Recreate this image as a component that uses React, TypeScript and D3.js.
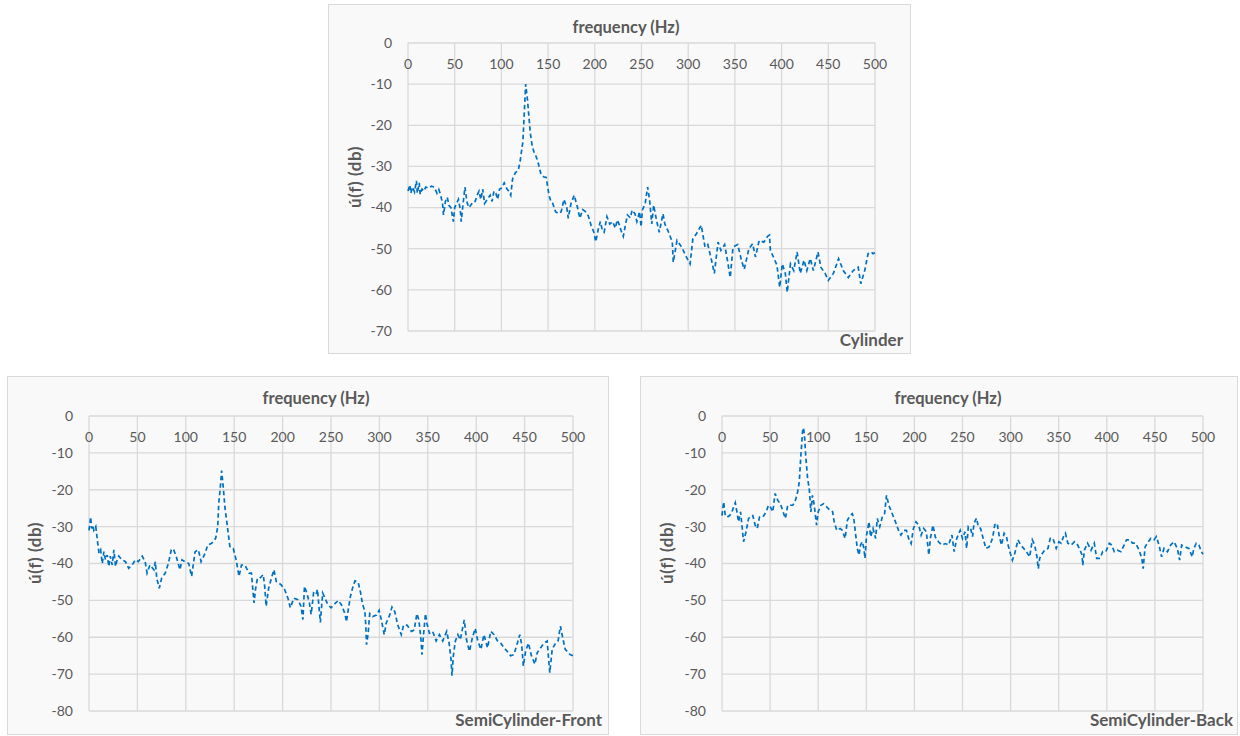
import React from "react";
import * as d3 from "d3";

// ---------- DATA ----------
const X_TICKS = [0, 50, 100, 150, 200, 250, 300, 350, 400, 450, 500];
const Y_TICKS_CYL = [0, -10, -20, -30, -40, -50, -60, -70];
const Y_TICKS_SEMI = [0, -10, -20, -30, -40, -50, -60, -70, -80];

const X_TITLE = "frequency (Hz)";
const Y_TITLE = "ú(f) (db)";

const CYL_FREQ = [0,2,3,5,7,9,10,12,13,15,17,19,22,25,28,31,33,35,37,38,40,42,44,46,48.6,50,52,54,56,57,59,61,63,65,67,70,72,74,76,78,80,82,85,88,90,92,94,96,98,100,103,106,108,110,112,115,118,120,123,126,128,131,133,135.5,137,139,142.5,145,148,151,153,155,158,161,164,167,170,171.6,174.5,178,181.5,184,187,190,193,196,199,201,204,206,208,210,213,216,219,222,224,226,228,230.5,233,235,238,240,243,245,248,249.5,251,254,256.5,258.6,261,263,266,269,273,275,279,283,284,288,293,298,302,305,309,314,318,321,325,328,332,335,339,342,345,348,353,357,360,365,369,372,376,381,385,387,388,392,395,398,400.7,404,406,409.5,413,416.6,420,424,427,430.7,434,439,442,446.6,450,455.5,461,466,471.4,476.7,482,484.8,489,492.6,496,498,500];
const CYL_DB = [-36,-34.5,-36.5,-35,-36.2,-33.5,-36.5,-34,-36.8,-35.5,-36,-35,-35.3,-34.8,-35,-36.5,-35.6,-37,-39,-41.8,-38.5,-37.5,-39.5,-40,-43.4,-40,-39,-38,-40.5,-43.4,-39,-35,-38.5,-40,-39.5,-38.5,-38.5,-37,-36,-38,-35.5,-39,-38,-37,-38.5,-36,-36.5,-38,-35.5,-35.3,-34,-35.5,-36,-37,-33,-31.5,-31,-28.8,-24,-10,-14,-22,-25,-27,-27.5,-28.8,-32,-32.5,-32.7,-37,-38.5,-39,-41,-41.5,-41,-38,-40,-42.6,-39,-37,-40,-42.6,-40.5,-41,-42,-44.3,-46,-48.3,-45,-43.4,-45.5,-46,-42.2,-44,-43.4,-45,-43,-44,-45.5,-47,-44,-41.8,-42.5,-40.6,-41.5,-43.4,-41,-44.7,-40.6,-39,-35,-38,-44,-39.4,-43,-46,-41.5,-44,-46,-48.4,-53.3,-48,-49.6,-52,-53.7,-47.6,-46.3,-44.3,-49.6,-49,-52.8,-56,-48.4,-50.4,-49,-52.8,-57,-49.6,-49,-52.8,-55,-50,-48.8,-52,-48,-48.4,-47,-46.7,-50.4,-52.4,-54,-59.4,-53.7,-56,-60.6,-53.7,-55.3,-50.8,-56,-52.8,-55.3,-52.4,-55.3,-50.8,-54.5,-56,-57.7,-56,-52.4,-55.3,-57,-55.3,-54.5,-58.5,-55.3,-51.2,-50.8,-51.2,-51];

const FRONT_FREQ = [0,1.7,2.7,4,5,7,8.6,10.3,12,13.7,15.4,17,18.8,20.5,22,24,25.7,27.4,29,30.8,34,37.7,41,44.5,48,51,55,58,60,63,67,68.5,70,72.6,75,78.8,82,85,87,90,94,96,99,103,106,109.6,113,115.8,120,122.6,126.7,130.8,133,134,136,137,138.7,140.4,143,145.5,149,152,155,157.5,161,165.4,167.8,170.5,172,174,176.4,180,181.5,183,185.6,188,191,193.5,196,198.6,202,205.5,208,211.6,215.8,219,221,222.6,225,227.7,229.5,232,234.6,236,239,241.4,243,246.6,250,254,257.6,261,264.4,266,268,270,272,274.7,278,280.5,282.5,285,286,286.7,288.4,290,293,297,299.7,302,305,307,310.6,313,315.8,319,322.6,325,328.5,333,336,338.7,340.8,343,344,345.6,347.6,349,351.7,355,358.6,362,365.4,369.5,372,374,375,376.4,378.5,381,383.6,385.3,387.7,390,393,396,399,401.4,404.8,408,411.7,415,418.5,422,425.4,428.8,432,435.6,439,442.5,445,447,448.7,451,454,457,460.6,463,466.5,470,473.3,475,476,478.5,481,484.6,487,489.4,492,497,500];
const FRONT_DB = [-31,-27.4,-30.5,-29.6,-31,-30,-33.6,-37.2,-36.3,-40,-36.8,-39,-37.7,-40.8,-38,-40.4,-36.3,-40.8,-39,-38,-39,-39.5,-41.3,-40.4,-39,-39.5,-38,-39.5,-42.6,-40.4,-41.7,-39.5,-44,-46.7,-44,-42.6,-40,-36.3,-36,-38,-41.7,-39,-39.5,-40,-43.5,-36.8,-36.3,-39.5,-37.2,-35,-34.5,-33.2,-30,-23.8,-18.4,-14.8,-19.3,-24.7,-30,-35.4,-35.9,-39,-43.5,-40.4,-40.4,-42.6,-42.6,-50.7,-47,-44,-44,-43,-46.2,-51.6,-46.7,-44.4,-41.7,-44.9,-45.3,-45.8,-47,-49.4,-52,-49.4,-49.8,-51.6,-55.2,-46.2,-48,-50.7,-53.8,-48,-48.5,-47,-56,-48,-48.9,-51.1,-52,-50.9,-50,-51.3,-53.6,-55.8,-52.2,-49,-46.9,-44.7,-45,-47.8,-50.9,-53,-57,-62,-58.9,-53.6,-54.4,-54,-52.7,-55.3,-59.3,-56.2,-54,-51.8,-53,-56.7,-59.3,-56.7,-56.7,-58.4,-58,-53.6,-55.3,-60.7,-64.7,-59.3,-53.6,-56.2,-58.9,-58.4,-61,-59.3,-61,-58.4,-61.6,-66,-70.4,-65,-61,-59.3,-60.7,-58.4,-55.3,-60.7,-63.8,-60.2,-57.6,-60.7,-63.3,-59.3,-62.9,-58.4,-59.3,-61,-61.6,-62.9,-63.8,-65,-64.7,-61.6,-59.3,-62,-67.8,-63.8,-61.6,-65,-67.3,-64.2,-62.9,-61.6,-61,-66.4,-69.6,-63.3,-62,-61,-57,-60.2,-63.3,-64.7,-65];

const BACK_FREQ = [0,1.7,3.4,5.5,8,10.3,13.8,15.5,17.2,19.3,20.7,22.4,25,27.6,30.3,32,34.5,36.6,39,42.4,45.9,48.3,50.3,52.8,55.2,58,60.7,63,65.9,68.3,71,73.4,75.9,78.6,80.3,82,83.8,84.8,86,87,89,90.7,92.4,94,95.9,98.3,100,102.8,105.5,109,112.4,115,116.6,119.3,122.8,125,128,130.3,133,135.5,137,139,140.7,142.4,144,145.9,147.6,148.6,150.3,152.8,154.5,157,159.7,161.4,164,166.6,169,171,173.4,177,180.3,184,186,189,191.7,194,196.6,199,201.7,204.5,207,209.7,212.4,215,216.6,219.3,221.7,225,228.6,232,235.5,239,241.4,244,247.6,250,252.6,254.3,256,258.4,260.5,261.9,264.6,266.4,268.8,271.5,274.3,277.7,281.2,283.6,286,288,290.5,293.3,295.7,297.4,299.8,301.9,304.3,307.7,310.5,313.6,316.4,319.8,322.6,325,327.4,328.8,330.2,333,335.3,338.8,341.2,344,347.4,350.2,352.6,355,357,359.5,363,366.4,369.8,372.2,374.3,375,376.7,380,383.6,387,389.5,393,395.7,399,402.6,405.3,407.7,411,414.6,418,420.5,424,426.7,430,433.6,436.4,437.8,439.8,442.2,445.7,449,451.5,454.3,457,459.5,463,466.4,469.8,473.3,475.7,477.8,481.2,485.3,488.8,490.5,493,495.7,498.4,500];
const BACK_DB = [-27,-23.3,-27,-27.4,-27,-26,-23.5,-26,-28.7,-26,-29.6,-34.1,-31.4,-27.8,-27,-27,-29.6,-30.5,-27.4,-27.4,-26,-24.2,-24.7,-26,-21,-22.9,-23.8,-25.6,-27.8,-24.2,-24.2,-24.2,-23.3,-20.6,-17.9,-10.7,-4,-3.2,-6.2,-10.7,-17,-19.7,-26,-21.5,-24.2,-29.6,-26,-24.2,-23.8,-24.7,-25.6,-26,-28.7,-31,-30.5,-31,-33.2,-28.3,-27,-26.5,-27.8,-32.3,-36,-37.7,-35,-34.1,-36,-38.6,-32.3,-28.7,-32.8,-30.5,-33.2,-27.8,-30,-27.4,-26.5,-21.5,-24.2,-26.5,-28.7,-31.4,-32.3,-31,-31,-33.2,-34.6,-30.5,-28.7,-29.6,-32.3,-30.5,-31.4,-37.7,-33.2,-29.6,-32.8,-34.1,-35,-34.6,-35,-32.3,-36.8,-33.2,-31,-33.2,-31.4,-35.9,-30,-30.5,-32.7,-29.1,-27.7,-30,-30.5,-33.2,-35.9,-35.5,-33.2,-29.5,-29.1,-32.3,-35,-31.8,-32.7,-35,-37.3,-39.1,-37.3,-33.6,-35,-35.9,-36.8,-38.2,-33.6,-35,-38.2,-41.4,-38.6,-37.3,-36.4,-35.9,-33.2,-33.2,-35.9,-34.1,-34.5,-32.7,-31.8,-34.5,-35,-34.1,-35,-36.4,-37.7,-40.5,-36.4,-34.5,-36.4,-34.5,-38.6,-38.6,-36.8,-36.8,-34.5,-35,-36.8,-36.4,-36.8,-35,-33.6,-33.6,-34.5,-34.5,-36.4,-38.6,-41.4,-35.5,-34.5,-33.2,-33.6,-32.7,-35,-38.2,-35.9,-36.8,-35,-34.1,-35.9,-39.1,-35,-35.5,-35.9,-38.2,-35.9,-34.5,-35,-36.8,-37.5];

// ---------- LAYOUT ----------
const FONT = "Lato, 'Open Sans', 'Liberation Sans', sans-serif";
const GRID = "#D9D9D9";
const TXT = "#595959";
const LINE = "#0070C0";

type Panel = {
  name: string;
  freq: number[];
  db: number[];
  yTicks: number[];
  box: [number, number, number, number];
  plot: [number, number, number, number]; // left, top, right, bottom
  titleX: number;
  titleY: number;
  yTitleX: number;
  yTitleY: number;
  nameX: number;
  nameY: number;
};

const PANELS: Panel[] = [
  {
    name: "Cylinder", freq: CYL_FREQ, db: CYL_DB, yTicks: Y_TICKS_CYL,
    box: [328, 4, 582, 349], plot: [408, 43, 875, 331],
    titleX: 626, titleY: 27, yTitleX: 355, yTitleY: 177, nameX: 903, nameY: 340,
  },
  {
    name: "SemiCylinder-Front", freq: FRONT_FREQ, db: FRONT_DB, yTicks: Y_TICKS_SEMI,
    box: [7, 376, 601, 358], plot: [89, 416, 573, 711],
    titleX: 316, titleY: 398, yTitleX: 35, yTitleY: 553, nameX: 602, nameY: 720,
  },
  {
    name: "SemiCylinder-Back", freq: BACK_FREQ, db: BACK_DB, yTicks: Y_TICKS_SEMI,
    box: [640, 376, 597, 358], plot: [722, 416, 1203, 711],
    titleX: 948, titleY: 398, yTitleX: 667, yTitleY: 553, nameX: 1233, nameY: 720,
  },
];

function ChartPanel({ p }: { p: Panel }) {
  const [l, t, r, b] = p.plot;
  const x = d3.scaleLinear().domain([0, 500]).range([l, r]);
  const yMin = p.yTicks[p.yTicks.length - 1];
  const y = d3.scaleLinear().domain([yMin, 0]).range([b, t]);
  const pts: [number, number][] = p.freq.map((f, i) => [f, p.db[i]]);
  const line = d3.line<[number, number]>().x((d) => x(d[0])).y((d) => y(d[1]));
  return (
    <g>
      <rect x={p.box[0] + 0.5} y={p.box[1] + 0.5} width={p.box[2]} height={p.box[3]} fill="#F9F9F9" stroke="#D9D9D9" strokeWidth={1} />
      {p.yTicks.map((v) => (
        <line key={"h" + v} x1={l} x2={r} y1={y(v)} y2={y(v)} stroke={GRID} strokeWidth={1.3} />
      ))}
      {X_TICKS.map((v) => (
        <line key={"v" + v} x1={x(v)} x2={x(v)} y1={t} y2={b} stroke={GRID} strokeWidth={1.3} />
      ))}
      {p.yTicks.map((v) => (
        <text key={"yl" + v} x={l - 16} y={y(v)} dy="0.35em" textAnchor="end" fontSize={14} fill={TXT} fontFamily={FONT}>{v}</text>
      ))}
      {X_TICKS.map((v) => (
        <text key={"xl" + v} x={x(v)} y={t + 21} dy="0.35em" textAnchor="middle" fontSize={14} fill={TXT} fontFamily={FONT}>{v}</text>
      ))}
      <path d={line(pts) || ""} fill="none" stroke={LINE} strokeWidth={1.7} strokeDasharray="4.5,3" />
      <text x={p.titleX} y={p.titleY} dy="0.35em" textAnchor="middle" fontSize={16.5} fontWeight="bold" fill={TXT} fontFamily={FONT}>{X_TITLE}</text>
      <text transform={`translate(${p.yTitleX},${p.yTitleY}) rotate(-90)`} dy="0.35em" textAnchor="middle" fontSize={17} fontWeight="bold" letterSpacing={0.6} fill={TXT} fontFamily={FONT}>{Y_TITLE}</text>
      <text x={p.nameX} y={p.nameY} dy="0.35em" textAnchor="end" fontSize={17} fontWeight="bold" fill={TXT} fontFamily={FONT}>{p.name}</text>
    </g>
  );
}

export default function App() {
  return (
    <svg width={1240} height={736} style={{ position: "absolute", left: 0, top: 0, background: "#FFFFFF" }}>
      {PANELS.map((p) => (
        <ChartPanel key={p.name} p={p} />
      ))}
    </svg>
  );
}
